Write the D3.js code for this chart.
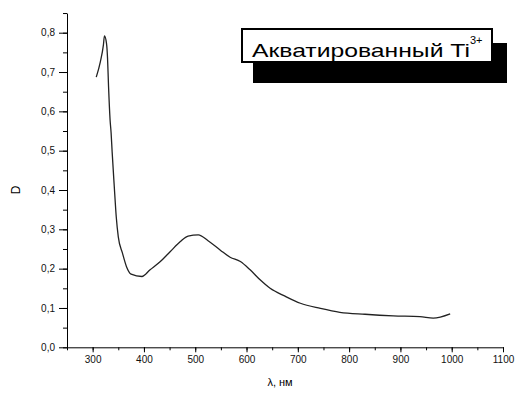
<!DOCTYPE html>
<html>
<head>
<meta charset="utf-8">
<script src="https://cdn.jsdelivr.net/npm/d3@7"></script>
<style>
  body { margin: 0; background: #fff; }
  svg { display: block; font-family: "Liberation Sans", Arial, sans-serif; }
</style>
</head>
<body>
<div id="chart"></div>
<script>
// spectrum: wavelength (nm) and optical density D
const wavelengths = [307, 315, 321, 323, 327, 329, 331, 334, 336, 338, 342, 346, 350, 358, 366, 375, 396,
  412, 432, 451, 471, 486, 506, 525, 549, 568, 588, 607, 627, 646, 675, 705, 744, 782, 831, 886, 938, 964, 997];
const density = [0.687, 0.726, 0.769, 0.792, 0.773, 0.736, 0.663, 0.578, 0.545, 0.497, 0.412, 0.332, 0.281,
  0.240, 0.205, 0.186, 0.180, 0.197, 0.218, 0.243, 0.269, 0.283, 0.286, 0.271, 0.247, 0.229, 0.218, 0.197,
  0.171, 0.150, 0.130, 0.112, 0.099, 0.089, 0.084, 0.080, 0.078, 0.074, 0.085];

const xTicks = [300, 400, 500, 600, 700, 800, 900, 1000, 1100];
const yTicks = [0, 0.1, 0.2, 0.3, 0.4, 0.5, 0.6, 0.7, 0.8];
const xMinor = d3.range(250, 1101, 50);
const yMinor = d3.range(0, 0.851, 0.05);

const W = 518, H = 397;

const svg = d3.select('#chart').append('svg').attr('width', W).attr('height', H);

const x = d3.scaleLinear().domain([250, 1100]).range([67, 503]);
const y = d3.scaleLinear().domain([0, 0.85]).range([347.3, 347.3 - 0.85 * 393.25]);

const fmt = (d) => d3.format('.1f')(d).replace('.', ',');

// minor ticks
svg.append('g')
    .attr('transform', `translate(0,${y(0)})`)
    .call(d3.axisBottom(x).tickValues(xMinor).tickSize(3).tickFormat(''))
    .call((g) => g.select('.domain').remove());
svg.append('g')
    .attr('transform', `translate(${x(250)},0)`)
    .call(d3.axisLeft(y).tickValues(yMinor).tickSize(4).tickFormat(''))
    .call((g) => g.select('.domain').remove());

// major axes
svg.append('g')
    .attr('transform', `translate(0,${y(0)})`)
    .call(d3.axisBottom(x).tickValues(xTicks).tickSize(5).tickSizeOuter(0).tickPadding(4)
        .tickFormat(d3.format('d')));
svg.append('g')
    .attr('transform', `translate(${x(250)},0)`)
    .call(d3.axisLeft(y).tickValues(yTicks).tickSize(8).tickSizeOuter(0).tickPadding(4).tickFormat(fmt));

svg.selectAll('.tick text')
    .style('font-size', '10px')
    .style('font-family', '"Liberation Sans", Arial, sans-serif')
    .style('fill', '#111');
svg.selectAll('.domain, .tick line').attr('stroke', '#000').attr('stroke-width', 1);

// axis titles
svg.append('text')
    .attr('x', 280)
    .attr('y', 386)
    .attr('text-anchor', 'middle')
    .style('font-size', '11px')
    .text('λ, нм');

svg.append('text')
    .attr('transform', `translate(20,${y(0.4)}) rotate(-90)`)
    .attr('text-anchor', 'middle')
    .style('font-size', '12px')
    .text('D');

// curve
const pts = wavelengths.map((w, i) => [w, density[i]]);
const line = d3.line()
    .x((d) => x(d[0]))
    .y((d) => y(d[1]))
    .curve(d3.curveMonotoneX);

svg.append('path')
    .datum(pts)
    .attr('d', line)
    .attr('fill', 'none')
    .attr('stroke', '#222')
    .attr('stroke-width', 1.3);

// legend box with drop shadow
const legend = svg.append('g');
legend.append('rect')
    .attr('x', 253).attr('y', 43)
    .attr('width', 254).attr('height', 40)
    .attr('fill', '#000');
legend.append('rect')
    .attr('x', 242).attr('y', 29)
    .attr('width', 250).attr('height', 33)
    .attr('fill', '#fff')
    .attr('stroke', '#000')
    .attr('stroke-width', 2);

const label = legend.append('text')
    .attr('x', 252)
    .attr('y', 57)
    .style('font-size', '19px');
label.append('tspan')
    .attr('textLength', 218)
    .attr('lengthAdjust', 'spacingAndGlyphs')
    .text('Акватированный Ti');
label.append('tspan')
    .attr('dy', -13)
    .style('font-size', '11px')
    .text('3+');
</script>
</body>
</html>
